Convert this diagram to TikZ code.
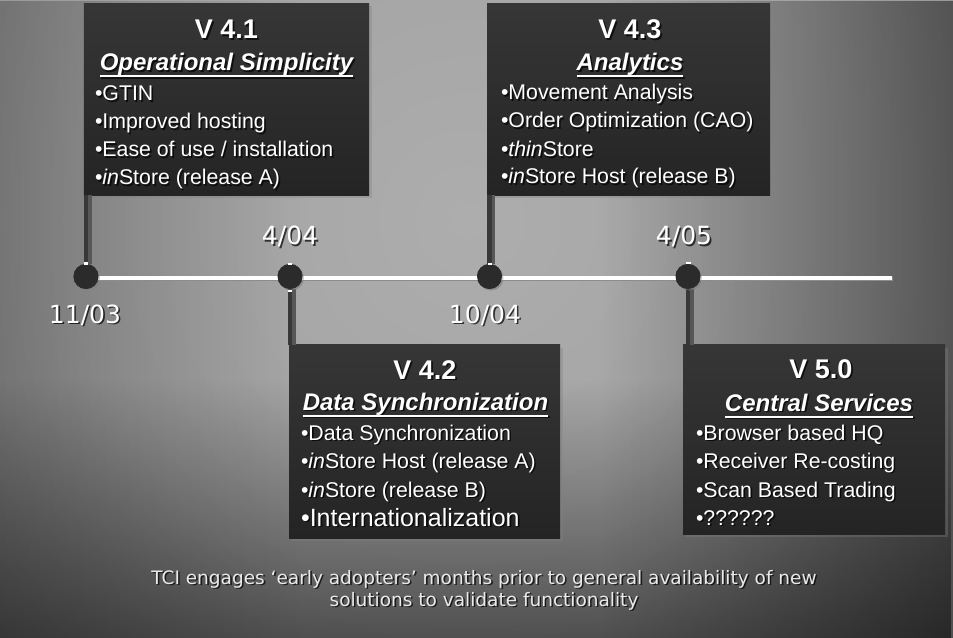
\documentclass[tikz,border=0pt]{standalone}
\usepackage{fontspec}
\setmainfont{Liberation Sans}
\newfontfamily\datefont{DejaVu Sans}
\usetikzlibrary{calc,shadows,fadings}

\definecolor{bg0}{HTML}{ADADAD}
\definecolor{bg1}{HTML}{A2A2A2}
\definecolor{bg2}{HTML}{868686}
\definecolor{bg3}{HTML}{666666}
\definecolor{bg4}{HTML}{464646}
\definecolor{boxtop}{HTML}{363636}
\definecolor{boxbot}{HTML}{242424}
\definecolor{stemdark}{HTML}{383838}
\definecolor{stemlight}{HTML}{575757}
\definecolor{dotfill}{HTML}{2B2B2B}
\definecolor{notecol}{HTML}{EAEAEA}

% soft spotlight behind the slide
\pgfdeclareradialshading{backglow}{\pgfpoint{0bp}{0bp}}{%
  color(0bp)=(bg0); color(12.5bp)=(bg1); color(25bp)=(bg2);
  color(37.5bp)=(bg3); color(50bp)=(bg4)}

\tikzset{
  txt/.style={text=white, inner sep=0pt, outer sep=0pt},
  vtitle/.style={txt, anchor=base, font=\fontsize{27bp}{31bp}\selectfont\bfseries},
  vsub/.style={txt, anchor=base, font=\fontsize{24bp}{28bp}\selectfont\bfseries\itshape},
  item/.style={txt, anchor=base west, font=\fontsize{21.3bp}{25bp}\selectfont},
  bigitem/.style={txt, anchor=base west, font=\fontsize{25bp}{30bp}\selectfont},
  datelbl/.style={txt, anchor=base, font=\datefont\fontsize{25bp}{29bp}\selectfont},
  note/.style={txt, anchor=base, text=notecol, font=\datefont\fontsize{18.5bp}{22bp}\selectfont},
  relbox/.style={shading=axis, top color=boxtop, bottom color=boxbot, inner sep=0pt,
    drop shadow={shadow xshift=2.5bp, shadow yshift=-2.5bp, opacity=.35}},
  dot/.style={circle, fill=dotfill, minimum size=25bp, inner sep=0pt,
    drop shadow={shadow xshift=1.5bp, shadow yshift=-1.5bp, opacity=.4}},
  stem/.style={draw=stemdark, line width=4.5bp},
  stemshade/.style={draw=stemlight, line width=3.5bp},
  timeline/.style={draw=white, line width=4.5bp},
  timelineshade/.style={draw=black!45, line width=4.5bp},
  uline/.style={draw=white, line width=2bp},
  ulineshade/.style={draw=black, draw opacity=.6, line width=2bp},
  tick/.style={fill=white},
}

% white text with a small dark drop shadow
\newcommand\shtxt[4]{%
  \node[#1, text=black, text opacity=.7] (#2-sh) at ($(#3)+(1.6,1.6)$) {#4};
  \node[#1] (#2) at (#3) {#4};}
% underline below a subtitle node
\newcommand\uscore[1]{%
  \draw[ulineshade] ([xshift=1.6bp,yshift=-7.1bp]#1.base west) -- ([xshift=1.6bp,yshift=-7.1bp]#1.base east);
  \draw[uline] ([yshift=-5.5bp]#1.base west) -- ([yshift=-5.5bp]#1.base east);}

\begin{document}
\begin{tikzpicture}[x=1bp,y=-1bp]
\useasboundingbox (0,0) rectangle (953,638);

% background: spotlight, darkened towards the edges
\begin{scope}
  \clip (0,0) rectangle (953,638);
  \path[shading=backglow] (470-800,220-800) rectangle (470+800,220+800);
  \fill[black, path fading=west, fill opacity=.45] (600,0) rectangle (953,638);
  \fill[black, path fading=east, fill opacity=.25] (0,0) rectangle (300,638);
  \fill[black, path fading=north, fill opacity=.5] (0,380) rectangle (953,638);
\end{scope}

% release boxes
\node[relbox, minimum width=285bp, minimum height=191bp] (b41) at (226.5,99.5) {};
\node[relbox, minimum width=283bp, minimum height=191bp] (b43) at (628.5,99.5) {};
\node[relbox, minimum width=271bp, minimum height=193bp] (b42) at (424.5,441.5) {};
\node[relbox, minimum width=262bp, minimum height=189bp] (b50) at (814,439.5) {};

% milestones on the time line
\coordinate (tlend) at (892,278);
\node[dot] (d1) at (86,276.5) {};
\node[dot] (d2) at (290,276.5) {};
\node[dot] (d3) at (489.5,276.5) {};
\node[dot] (d4) at (688,276.5) {};

% stems from the boxes to their milestones
\draw[stemshade] ([xshift=3.8bp]b41.south west -| d1) -- ([xshift=3.8bp]d1.north);
\draw[stem] (b41.south west -| d1) -- (d1.north);
\draw[stemshade] ([xshift=3.8bp]b43.south west -| d3) -- ([xshift=3.8bp]d3.north);
\draw[stem] (b43.south west -| d3) -- (d3.north);
\draw[stemshade] ([xshift=3.8bp]d2.south) -- ([xshift=3.8bp]b42.north west -| d2);
\draw[stem] (d2.south) -- (b42.north west -| d2);
\draw[stemshade] ([xshift=3.8bp]d4.south) -- ([xshift=3.8bp]b50.north west -| d4);
\draw[stem] (d4.south) -- (b50.north west -| d4);

% time line
\draw[timelineshade] ([yshift=-1.2bp]d1.center |- tlend) -- ([xshift=1.2bp,yshift=-1.2bp]tlend);
\draw[timeline] (d1.center |- tlend) -- (tlend);
\node[dot] (d1b) at (d1) {};
\node[dot] (d2b) at (d2) {};
\node[dot] (d3b) at (d3) {};
\node[dot] (d4b) at (d4) {};
\fill[tick] (84,262) rectangle (88,264.8);
\fill[tick] (487.5,262.5) rectangle (492,265);
\fill[tick] (288,262.8) rectangle (292,265);
\fill[tick] (288,289.5) rectangle (292,292);
\fill[tick] (686,261.8) rectangle (690.5,264.3);

% dates
\shtxt{datelbl}{m1}{85,323}{11/03}
\shtxt{datelbl}{m2}{290,245}{4/04}
\shtxt{datelbl}{m3}{485,323}{10/04}
\shtxt{datelbl}{m4}{684,245}{4/05}

% V 4.1
\shtxt{vtitle}{t41}{226.5,39}{V 4.1}
\shtxt{vsub}{s41}{226.5,71}{Operational Simplicity}
\uscore{s41}
\shtxt{item}{i41a}{95,101}{•GTIN}
\shtxt{item}{i41b}{95,129}{•Improved hosting}
\shtxt{item}{i41c}{95,157}{•Ease of use / installation}
\shtxt{item}{i41d}{95,185}{•\textit{in}Store (release A)}

% V 4.3
\shtxt{vtitle}{t43}{630,39}{V 4.3}
\shtxt{vsub}{s43}{630,71}{Analytics}
\uscore{s43}
\shtxt{item}{i43a}{501,100}{•Movement Analysis}
\shtxt{item}{i43b}{501,128}{•Order Optimization (CAO)}
\shtxt{item}{i43c}{501,157}{•\textit{thin}Store}
\shtxt{item}{i43d}{501,184}{•\textit{in}Store Host (release B)}

% V 4.2
\shtxt{vtitle}{t42}{425,379}{V 4.2}
\shtxt{vsub}{s42}{425.5,410}{Data Synchronization}
\uscore{s42}
\shtxt{item}{i42a}{301,440}{•Data Synchronization}
\shtxt{item}{i42b}{301,468}{•\textit{in}Store Host (release A)}
\shtxt{item}{i42c}{301,497}{•\textit{in}Store (release B)}
\shtxt{bigitem}{i42d}{301,526}{•Internationalization}

% V 5.0
\shtxt{vtitle}{t50}{821,378}{V 5.0}
\shtxt{vsub}{s50}{819,411}{Central Services}
\uscore{s50}
\shtxt{item}{i50a}{696,440}{•Browser based HQ}
\shtxt{item}{i50b}{696,468}{•Receiver Re-costing}
\shtxt{item}{i50c}{696,497}{•Scan Based Trading}
\shtxt{item}{i50d}{696,525}{•??????}

% footnote
\shtxt{note}{n1}{484,584}{TCI engages ‘early adopters’ months prior to general availability of new}
\shtxt{note}{n2}{484,606}{solutions to validate functionality}
\end{tikzpicture}
\end{document}
